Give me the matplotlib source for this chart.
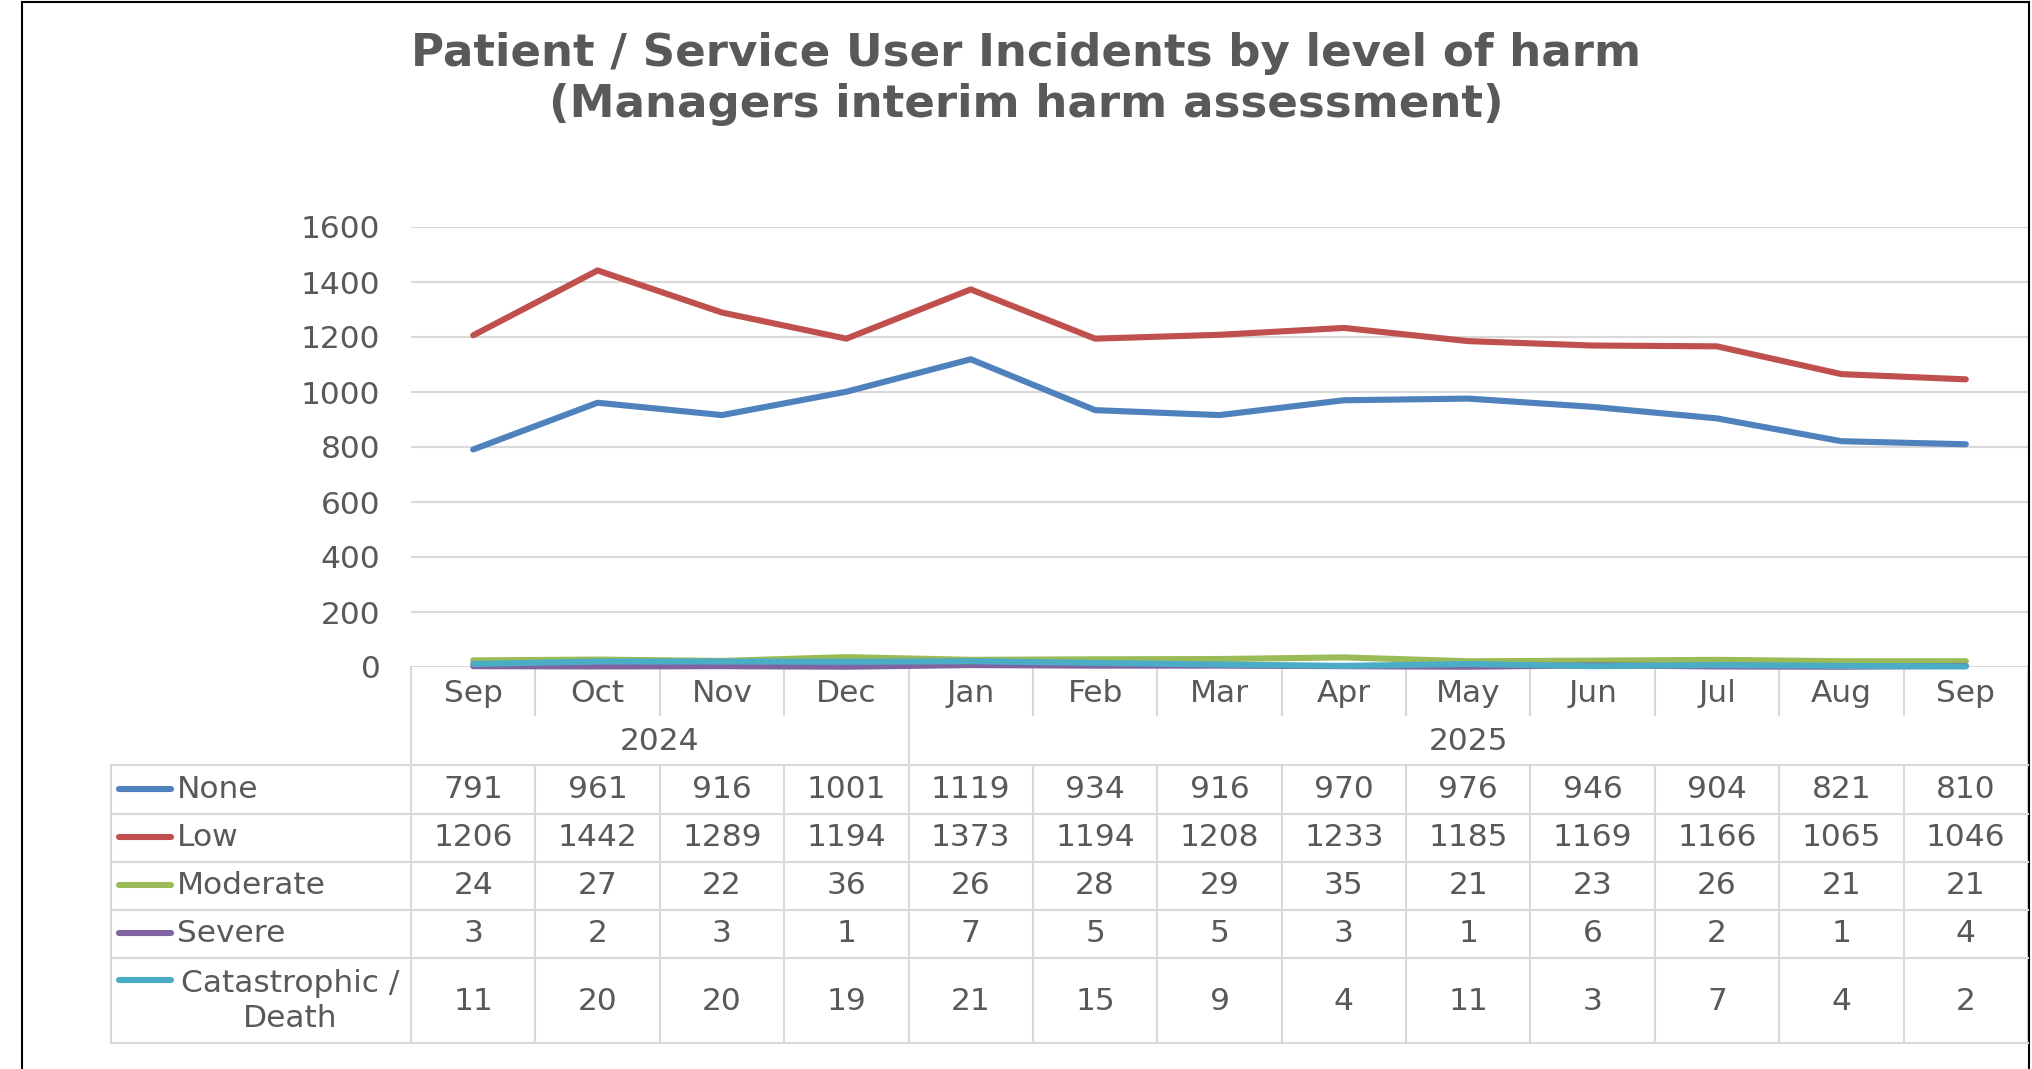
import numpy as np
import matplotlib.pyplot as plt
from matplotlib.transforms import blended_transform_factory
from matplotlib.lines import Line2D
from matplotlib.patches import Rectangle

# Monthly incident counts by harm level
months = ['Sep', 'Oct', 'Nov', 'Dec', 'Jan', 'Feb', 'Mar', 'Apr', 'May', 'Jun', 'Jul', 'Aug', 'Sep']
years = ['2024', '2025']
year_spans = [(0, 3), (4, 12)]
series_names = ['None', 'Low', 'Moderate', 'Severe', 'Catastrophic /\nDeath']
none = [791, 961, 916, 1001, 1119, 934, 916, 970, 976, 946, 904, 821, 810]
low = [1206, 1442, 1289, 1194, 1373, 1194, 1208, 1233, 1185, 1169, 1166, 1065, 1046]
moderate = [24, 27, 22, 36, 26, 28, 29, 35, 21, 23, 26, 21, 21]
severe = [3, 2, 3, 1, 7, 5, 5, 3, 1, 6, 2, 1, 4]
catastrophic = [11, 20, 20, 19, 21, 15, 9, 4, 11, 3, 7, 4, 2]
series = [none, low, moderate, severe, catastrophic]
colors = ['#4F81BD', '#C0504D', '#9BBB59', '#8064A2', '#4BACC6']

TXT = '#595959'
GRID = '#D9D9D9'
W, H = 2032, 1069
FS = 22.5


def fy(py):
    # pixel row from the top -> figure fraction
    return 1 - py / H


def fx(px):
    return px / W


fig = plt.figure(figsize=(W / 100, H / 100), dpi=100)
plt.rcParams['font.family'] = 'DejaVu Sans'

# plot area
ax = fig.add_axes([fx(411), fy(667), fx(2028 - 411), (667 - 227) / H])
x = np.arange(len(months))
for vals, c in zip(series, colors):
    ax.plot(x, vals, color=c, lw=4.4, solid_capstyle='round', solid_joinstyle='round',
            clip_on=False, zorder=3)

ax.set_xlim(-0.5, len(months) - 0.5)
ax.set_ylim(0, 1600)
ax.set_yticks(np.arange(0, 1601, 200))
ax.set_xticks([])
ax.grid(axis='y', color=GRID, lw=1.5)
ax.set_axisbelow(True)
for s in ax.spines.values():
    s.set_visible(False)
ax.tick_params(axis='y', length=0, pad=22, labelsize=FS, labelcolor=TXT)

# data table under the chart
trans = blended_transform_factory(ax.transData, fig.transFigure)
lkw = dict(color=GRID, lw=1.5, clip_on=False)

y_axis, y_month, y_year = 667, 715, 765
row_edges = [765, 814, 862, 910, 958, 1043]
row_centers = [789, 837, 885, 933, 1000]

# horizontal rules for the value rows
for ye in row_edges:
    fig.add_artist(Line2D([fx(111), fx(2028)], [fy(ye), fy(ye)], **lkw))
fig.add_artist(Line2D([fx(111), fx(111)], [fy(765), fy(1043)], **lkw))

# vertical rules between categories
year_starts = [s for s, e in year_spans]
for i in range(len(months) + 1):
    xb = i - 0.5
    if i in year_starts or i == len(months):
        ax.add_artist(Line2D([xb, xb], [fy(y_axis), fy(1043)], transform=trans, **lkw))
    else:
        ax.add_artist(Line2D([xb, xb], [fy(y_axis), fy(y_month)], transform=trans, **lkw))
        ax.add_artist(Line2D([xb, xb], [fy(y_year), fy(1043)], transform=trans, **lkw))

for i, m in enumerate(months):
    ax.text(i, fy(693), m, transform=trans, ha='center', va='center', fontsize=FS, color=TXT)
for yr, (s, e) in zip(years, year_spans):
    ax.text((s + e) / 2, fy(742), yr, transform=trans, ha='center', va='center', fontsize=FS, color=TXT)

for name, vals, c, yc in zip(series_names, series, colors, row_centers):
    for i, v in enumerate(vals):
        ax.text(i, fy(yc + 1), str(v), transform=trans, ha='center', va='center', fontsize=FS, color=TXT)
    if '\n' in name:
        key_y = yc - 20
        fig.text(fx(290), fy(yc + 1), name, ha='center', va='center', fontsize=FS, color=TXT,
                 multialignment='center', linespacing=1.22)
    else:
        key_y = yc
        fig.text(fx(177), fy(yc + 1), name, ha='left', va='center', fontsize=FS, color=TXT)
    fig.add_artist(Line2D([fx(119), fx(171)], [fy(key_y), fy(key_y)], color=c, lw=4.4,
                          solid_capstyle='round'))

fig.text(fx(1026), fy(79), 'Patient / Service User Incidents by level of harm\n(Managers interim harm assessment)',
         ha='center', va='center', fontsize=32.5, fontweight='bold', color=TXT, linespacing=1.22)

# outer chart frame
fig.add_artist(Rectangle((fx(22), -0.1), fx(2029 - 22), 1.1 - 2 / H, transform=fig.transFigure,
                         fill=False, edgecolor='black', lw=1.5, clip_on=False))

fig.savefig('out.png', dpi=100)
